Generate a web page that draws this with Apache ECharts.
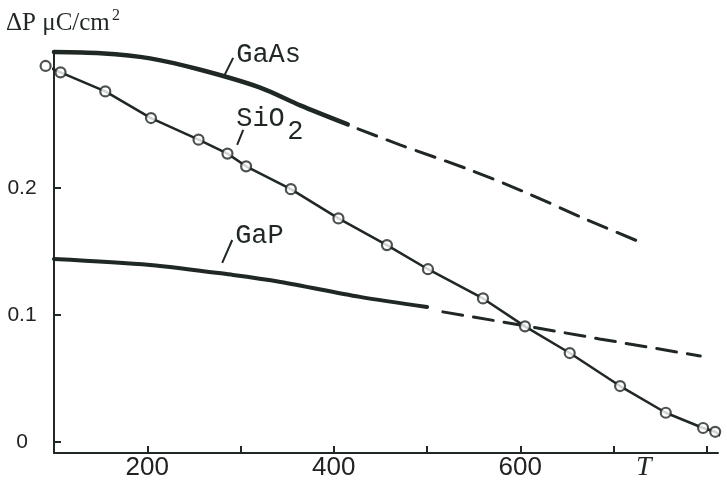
<!DOCTYPE html>
<html>
<head>
<meta charset="utf-8">
<script src="https://cdn.jsdelivr.net/npm/echarts@6/dist/echarts.min.js"></script>
<style>html,body{margin:0;padding:0;background:#fff}#c{width:727px;height:484px}</style>
</head>
<body>
<div id="c"></div>
<script>
// ---- data (T, ΔP in μC/cm²) ----
const gaasSolidT = [100, 150, 203, 257, 321, 364, 415];
const gaasSolidP = [0.307, 0.306, 0.302, 0.293, 0.279, 0.265, 0.250];
const gaasDashT  = [426, 471, 543, 602, 672, 728];
const gaasDashP  = [0.2465, 0.2339, 0.215, 0.1976, 0.1748, 0.1575];

const gapSolidT = [100, 203, 292, 343, 428, 500];
const gapSolidP = [0.1441, 0.1394, 0.1315, 0.126, 0.1142, 0.1063];
const gapDashT  = [517, 600, 685, 793];
const gapDashP  = [0.1024, 0.0921, 0.0811, 0.0677];

const sio2T = [91, 107, 155, 204, 255, 286, 306, 354, 405, 457, 501, 560, 605, 653, 707, 756, 796, 809];
const sio2P = [0.296, 0.291, 0.276, 0.255, 0.238, 0.227, 0.217, 0.199, 0.176, 0.155, 0.136, 0.113, 0.091, 0.070, 0.044, 0.023, 0.011, 0.008];
const sio2LineStart = [78, 0.299];
const sio2LineEnd = [821, 0.0016];

const xTickValues = [200, 300, 400, 500, 600, 700, 800];
const xLabelValues = [200, 400, 600];
const yTickValues = [0, 0.1, 0.2];

// annotation anchors (data coords)
const labelGaAs = [297.5, 0.3102];
const labelSiO2 = [297.5, 0.2598];
const labelGaP  = [296.4, 0.1677];
const leaderGaAs = [[292.1, 0.3024], [281.4, 0.2866]];
const leaderSiO2 = [[302.9, 0.2457], [296.4, 0.2339]];
const leaderGaP  = [[291.1, 0.159], [280.4, 0.141]];

const ink = '#1f2823';
const zip = (a, b) => a.map((v, i) => [v, b[i]]);

const chart = echarts.init(document.getElementById('c'), null, {renderer: 'canvas'});

const lineSeries = (data, width, dashed, smooth) => ({
  type: 'line', data, showSymbol: false, symbol: 'none', clip: false, smooth: smooth,
  lineStyle: {color: ink, width, type: dashed ? [20, 11] : 'solid', cap: 'round'},
  silent: true, animation: false
});

const leader = (seg) => [{coord: seg[0]}, {coord: seg[1]}];

chart.setOption({
  animation: false,
  backgroundColor: '#ffffff',
  grid: {left: 54, right: 9, top: 52, bottom: 31, containLabel: false, outerBoundsMode: 'none'},
  xAxis: {
    type: 'value', min: 100, max: 812,
    axisLine: {onZero: false, lineStyle: {color: ink, width: 2}},
    axisTick: {show: true, inside: true, length: 7, customValues: xTickValues, lineStyle: {color: ink, width: 2}},
    axisLabel: {customValues: xLabelValues, color: '#222', fontSize: 26, fontFamily: 'Liberation Sans', margin: 2},
    splitLine: {show: false}
  },
  yAxis: {
    type: 'value', min: -0.0087, max: 0.307,
    axisLine: {show: true, onZero: false, lineStyle: {color: ink, width: 2}},
    axisTick: {show: true, inside: true, length: 7, customValues: yTickValues, lineStyle: {color: ink, width: 2}},
    axisLabel: {customValues: yTickValues, color: '#222', fontSize: 21, fontFamily: 'Liberation Sans', align: 'center', margin: 32,
      formatter: v => (v === 0 ? '0' : v.toFixed(1))},
    splitLine: {show: false}
  },
  series: [
    Object.assign(lineSeries(zip(gaasSolidT, gaasSolidP), 4.5, false, 0.3), {
      markLine: {silent: true, symbol: 'none', label: {show: false}, animation: false,
        lineStyle: {color: ink, width: 2, type: 'solid'},
        data: [leader(leaderGaAs), leader(leaderSiO2), leader(leaderGaP)]}
    }),
    lineSeries(zip(gaasDashT, gaasDashP), 3, true, 0.3),
    lineSeries(zip(gapSolidT, gapSolidP), 4, false, 0.3),
    lineSeries(zip(gapDashT, gapDashP), 3, true, false),
    lineSeries([sio2LineStart].concat(zip(sio2T, sio2P), [sio2LineEnd]), 2.5, false, false),
    {
      type: 'scatter', data: zip(sio2T, sio2P), clip: false, symbol: 'circle', symbolSize: 10,
      itemStyle: {color: '#fff', borderColor: ink, borderWidth: 2.2}, z: 5, silent: true
    }
  ]
});

function px(p) { return chart.convertToPixel({gridIndex: 0}, p); }
const a = px(labelGaAs), s = px(labelSiO2), g = px(labelGaP);
const monoStyle = {fill: ink, font: '27px "Liberation Mono"', textVerticalAlign: 'top'};
chart.setOption({
  graphic: [
    {type: 'text', left: 6, top: 11, style: {text: 'ΔP μC/cm', fill: ink, font: '25px "Liberation Serif"'}},
    {type: 'text', left: 112, top: 8, style: {text: '2', fill: ink, font: '16px "Liberation Serif"'}},
    {type: 'text', x: a[0] - 2, y: a[1] - 7, style: Object.assign({text: 'GaAs'}, monoStyle)},
    {type: 'text', x: s[0] - 2, y: s[1] - 7, style: Object.assign({text: 'SiO'}, monoStyle)},
    {type: 'text', x: s[0] + 49, y: s[1] + 6, style: Object.assign({text: '2'}, monoStyle)},
    {type: 'text', x: g[0] - 2, y: g[1] - 7, style: Object.assign({text: 'GaP'}, monoStyle)},
    {type: 'text', x: 636, y: 454, style: {text: 'T', fill: ink, font: 'italic 28px "Liberation Serif"'}}
  ]
});
</script>
</body>
</html>
